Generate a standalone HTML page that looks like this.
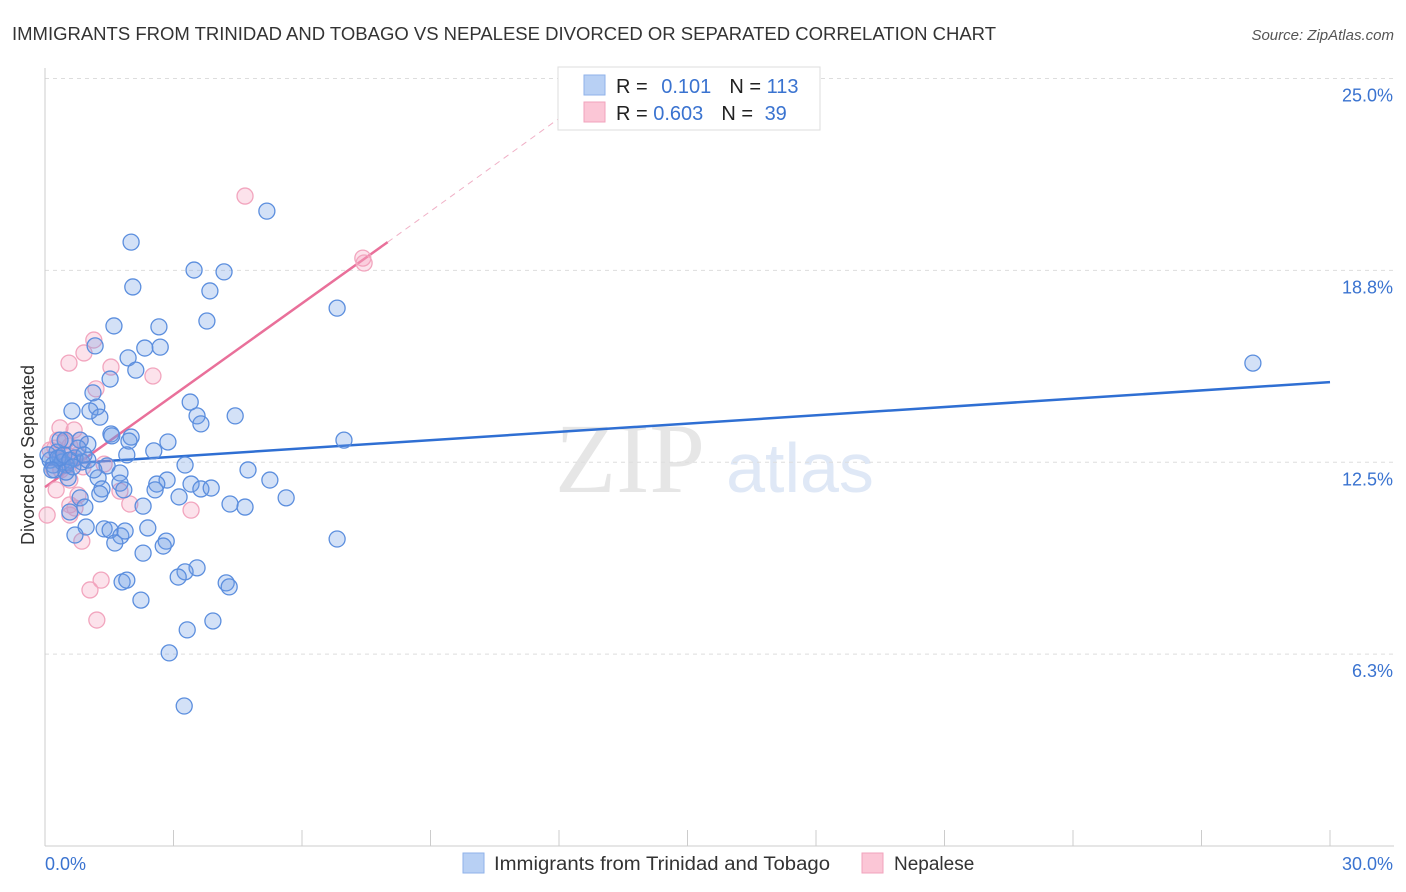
<!DOCTYPE html>
<html><head><meta charset="utf-8"><style>
body{margin:0;background:#fff;font-family:"Liberation Sans",sans-serif;}
svg{display:block}
</style></head><body>
<svg id="chart" width="1406" height="892">
<text x="12" y="40" font-size="18" fill="#333" textLength="984" lengthAdjust="spacingAndGlyphs">IMMIGRANTS FROM TRINIDAD AND TOBAGO VS NEPALESE DIVORCED OR SEPARATED CORRELATION CHART</text>
<text x="1394" y="40" font-size="15" fill="#555" font-style="italic" text-anchor="end">Source: ZipAtlas.com</text>
<text x="630" y="492" font-size="100" fill="#e6e6e6" font-family="Liberation Serif,serif" text-anchor="middle">ZIP</text>
<text x="800" y="492" font-size="70" fill="#dfe8f6" text-anchor="middle">atlas</text>
<g id="grid"></g><g id="axes"></g><g id="trend"></g><g id="points"></g>
<text transform="translate(34,455) rotate(-90)" font-size="18" fill="#333" text-anchor="middle">Divorced or Separated</text>
<g>
<rect x="558" y="67" width="262" height="63" fill="#fff" stroke="#ddd"/>
<rect x="584" y="75" width="21" height="20" fill="#b8d0f4" stroke="#8fb2ea"/>
<rect x="584" y="102" width="21" height="20" fill="#fbc6d6" stroke="#f1a3bc"/>
<text x="616" y="93" font-size="20" fill="#222">R = <tspan fill="#3a73d0" dx="8">0.101</tspan><tspan dx="18" fill="#222">N = </tspan><tspan fill="#3a73d0">113</tspan></text>
<text x="616" y="120" font-size="20" fill="#222">R = <tspan fill="#3a73d0">0.603</tspan><tspan dx="18" fill="#222">N = </tspan><tspan fill="#3a73d0" dx="6">39</tspan></text>
</g>
<g>
<rect x="463" y="853" width="21" height="20" fill="#b8d0f4" stroke="#8fb2ea"/>
<text x="494" y="870" font-size="19" fill="#333" textLength="336" lengthAdjust="spacingAndGlyphs">Immigrants from Trinidad and Tobago</text>
<rect x="862" y="853" width="21" height="20" fill="#fbc6d6" stroke="#f1a3bc"/>
<text x="894" y="870" font-size="19" fill="#333">Nepalese</text>
</g>
</svg>
<script>
const yTicks=[6.25,12.5,18.75,25];
const yTickLabels=["6.3%","12.5%","18.8%","25.0%"];
const xTicks=[0,3,6,9,12,15,18,21,24,27,30];
const blueX=[5.18,2.01,3.48,4.18,2.05,3.85,6.82,1.61,2.66,3.78,1.17,2.33,2.69,1.94,2.12,1.52,1.12,1.21,0.63,1.05,1.28,3.39,3.55,3.64,4.44,6.98,28.2,0.47,0.82,1.00,1.54,2.01,1.56,1.96,2.87,2.54,1.91,3.27,0.28,0.35,0.70,0.49,0.86,1.00,1.45,1.75,1.24,0.54,4.74,5.25,2.85,2.61,3.41,3.64,3.88,1.75,1.84,1.33,1.28,0.82,2.57,3.13,5.63,4.32,4.67,2.29,0.93,0.58,0.96,2.40,1.38,1.52,1.77,0.70,1.87,1.63,2.83,2.76,2.29,6.82,3.55,3.27,3.11,1.80,1.91,4.23,4.30,2.24,3.32,3.92,2.90,3.25,0.12,0.19,0.07,0.23,0.40,0.30,0.16,0.44,0.58,0.49,0.77,0.35,0.65,0.91,1.14];
const blueY=[20.68,19.67,18.76,18.70,18.21,18.08,17.52,16.94,16.91,17.10,16.29,16.22,16.25,15.90,15.50,15.21,14.76,14.30,14.17,14.17,13.97,14.46,14.01,13.75,14.01,13.22,15.73,13.22,13.22,13.09,13.42,13.32,13.36,13.19,13.16,12.87,12.74,12.41,12.83,12.64,12.64,12.41,12.51,12.57,12.38,12.15,11.99,11.99,12.25,11.92,11.92,11.79,11.79,11.63,11.66,11.82,11.60,11.63,11.47,11.34,11.60,11.37,11.34,11.14,11.04,11.07,11.04,10.88,10.39,10.36,10.33,10.29,10.10,10.13,10.26,9.87,9.93,9.77,9.54,10.00,9.06,8.93,8.76,8.60,8.66,8.57,8.44,8.01,7.04,7.33,6.29,4.56,12.57,12.41,12.74,12.25,12.51,12.64,12.25,12.74,12.57,12.18,12.96,13.22,12.35,12.74,12.25];
const pinkX=[4.67,7.42,7.45,1.14,0.91,0.56,2.52,1.54,1.19,0.35,0.68,0.30,0.49,0.82,0.58,0.23,0.65,0.89,0.37,1.38,0.26,0.58,0.77,1.75,1.98,0.58,0.70,3.41,0.05,0.58,0.86,1.31,1.05,1.21,0.40,0.12,0.51,0.21,0.77];
const pinkY=[21.17,19.15,18.99,16.48,16.06,15.73,15.31,15.60,14.89,13.62,13.55,13.22,13.19,13.22,13.03,12.96,12.57,12.35,12.25,12.44,11.60,11.92,11.43,11.56,11.14,11.11,11.01,10.94,10.78,10.78,9.93,8.66,8.34,7.36,12.57,12.90,12.74,12.25,12.74];
const blueTrend=[[0,12.41],[30,15.11]];
const pinkTrend=[[0,11.69],[8,19.67]];
const pinkDash=[[8,19.67],[12.1,23.8]];
const NS="http://www.w3.org/2000/svg";
const sx=v=>45+v*(1285/30);
const sy=v=>846-v*30.7;
function mk(tag,attrs,parent){const e=document.createElementNS(NS,tag);for(const k in attrs)e.setAttribute(k,attrs[k]);document.getElementById(parent).appendChild(e);return e;}
yTicks.forEach((t,i)=>{
 const l=mk('line',{x1:45,x2:1394,y1:sy(t),y2:sy(t),stroke:'#ddd','stroke-dasharray':'4,4'},'grid');
 
 
 const tx=mk('text',{x:1393,y:sy(t)+23,'font-size':18,fill:'#3a73d0','text-anchor':'end'},'grid');
 tx.textContent=yTickLabels[i];
 
 
});
const ax=mk('line',{x1:45,x2:1394,y1:846,y2:846,stroke:'#ccc'},'axes');


const ay=mk('line',{x1:45,x2:45,y1:68,y2:846,stroke:'#ccc'},'axes');


xTicks.forEach(t=>{
 const l=mk('line',{x1:sx(t),x2:sx(t),y1:830,y2:846,stroke:'#ccc'},'axes');
 
 
});
const x0=mk('text',{x:45,y:870,'font-size':18,fill:'#3a73d0'},'axes');x0.textContent='0.0%';


const x1=mk('text',{x:1393,y:870,'font-size':18,fill:'#3a73d0','text-anchor':'end'},'axes');x1.textContent='30.0%';


function seg(d,stroke,dash,name){const l=mk('line',{x1:sx(d[0][0]),y1:sy(d[0][1]),x2:sx(d[1][0]),y2:sy(d[1][1]),stroke:stroke,'stroke-width':dash?1:2.5},'trend');if(dash)l.setAttribute('stroke-dasharray','6,5');
 
 }
function pts(X,Y,fill,stroke,name){X.forEach((x,i)=>{const c=mk('circle',{cx:sx(x),cy:sy(Y[i]),r:8,fill:fill,stroke:stroke,'stroke-width':1.3},'points');
 
 });}
pts(pinkX,pinkY,'rgba(244,160,188,0.3)','#f2a5be','nepalese-point');
pts(blueX,blueY,'rgba(110,155,230,0.3)','#5b8ede','trinidad-point');
seg(blueTrend,'#2f6fd3',false,'trinidad-trend-line');
seg(pinkTrend,'#e9709a',false,'nepalese-trend-line');
seg(pinkDash,'#f0b0c6',true,'nepalese-trend-extension');
</script>
</body></html>
